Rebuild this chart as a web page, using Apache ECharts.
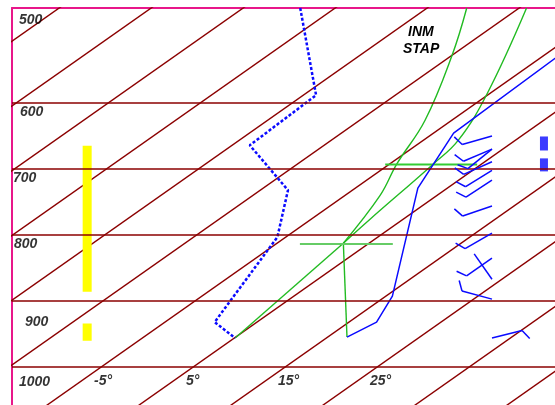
<!DOCTYPE html>
<html><head><meta charset="utf-8">
<script src="https://cdn.jsdelivr.net/npm/echarts/dist/echarts.min.js"></script>
<style>html,body{margin:0;padding:0;background:#fff}#c{width:555px;height:405px}</style>
</head><body><div id="c"></div>
<script>
// ---------- data ----------
const ISOBARS = [600, 700, 800, 900, 1000];                 // hPa
const ISOTHERMS = [-75, -65, -55, -45, -35, -25, -15, -5, 5, 15, 25, 35, 45, 55]; // °C
const PRESSURE_LEVELS = [500, 600, 700, 800, 900, 1000];
const PRESSURE_LABELS = ['500', '600', '700', '800', '900', '1000'];
const TEMP_TICKS = [-5, 5, 15, 25];
const TEMP_LABELS = ['-5°', '5°', '15°', '25°'];

// temperature profile (solid blue)
const TEMP_P = [954.5, 931.8, 892.4, 729.0, 645.8, 515.7];
const TEMP_T = [17.1, 18.0, 15.7, 1.8, -2.8, -3.4];
// dew point profile (dotted blue)
const DEW_P = [456.3, 588.4, 664.0, 732.1, 803.2, 931.8, 956.0];
const DEW_T = [-38.8, -23.6, -23.1, -12.0, -5.9, 0.4, 5.1];

// parcel construction (green)
const DRY_P = [954.5, 812.3];
const DRY_T = [17.1, 2.2];
const MIX_P = [956.0, 812.3];
const MIX_T = [5.1, 2.2];
const MOIST1_P = [812.3, 739.6, 692.7, 626.2, 527.8, 456.3];
const MOIST1_T = [2.2, -1.2, -4.2, -7.9, -15.0, -20.7];
const MOIST2_P = [812.3, 776.0, 692.7, 656.4, 585.3, 456.3];
const MOIST2_T = [2.2, 1.4, -0.25, -1.2, -5.3, -14.2];
const LCL_MARK_P = 813.5;  const LCL_MARK_T = [-2.4, 7.7];
const LVL_MARK_P = 693.2;  const LVL_MARK_T = [-5.4, 4.6];

// cloud layers (yellow) and upper markers (blue)
const CLOUD_LAYERS = [[665, 886], [934, 960]];
const MARKER_P = [661.4, 693.8];

// winds
const WIND_P   = [650, 670, 670, 689, 702, 717, 756, 797, 835, 867, 897, 956];
const WIND_DIR = [254, 247, 231, 246, 238, 237, 251, 240, 235, 325, 285, 76];
const WIND_SPD = [10, 10, 10, 10, 10, 10, 10, 10, 10, 0, 10, 10];

// ---------- diagram geometry ----------
const SKEW = 0.102;             // °C of horizontal shift per hPa
const X_MIN = -14.67, X_MAX = 44.35, P_TOP = 456.3, P_BOT = 1057.3;
const YELLOW_X = -6.5, MARKER_X = 43.15, BARB_X = 37.5;
function sx(T, p) { return T + SKEW * (1000 - p); }
function prof(Ts, Ps) { return Ts.map((t, i) => [sx(t, Ps[i]), Ps[i]]); }

const DARKRED = '#8b0000', BLUE = '#0a0aff', GREEN = '#22bb22';
const FONT = 'Liberation Sans, Arial, sans-serif';

const series = [];
ISOTHERMS.forEach(T => series.push({
  type: 'line', data: [[sx(T, P_TOP - 20), P_TOP - 20], [sx(T, P_BOT + 20), P_BOT + 20]],
  symbol: 'none', lineStyle: { color: DARKRED, width: 1.4 }, z: 1, silent: true
}));
series.push({
  type: 'line', data: [], symbol: 'none', z: 1, silent: true,
  markLine: { symbol: 'none', silent: true, label: { show: false },
    lineStyle: { color: DARKRED, width: 1.6, type: 'solid' },
    data: ISOBARS.map(p => ({ yAxis: p })) }
});
CLOUD_LAYERS.forEach(l => series.push({
  type: 'line', data: [[YELLOW_X, l[0]], [YELLOW_X, l[1]]], symbol: 'none',
  lineStyle: { color: '#ffff00', width: 9, cap: 'butt' }, z: 2, silent: true
}));
series.push({ type: 'scatter', data: [[MARKER_X, MARKER_P[0]]], symbol: 'rect', symbolSize: [8, 14], itemStyle: { color: BLUE }, z: 4, silent: true });
series.push({ type: 'scatter', data: [[MARKER_X, MARKER_P[1]]], symbol: 'rect', symbolSize: [8, 13], itemStyle: { color: BLUE }, z: 4, silent: true });

function gline(data, color, width, smooth) {
  series.push({ type: 'line', data, symbol: 'none', smooth: smooth || false,
    lineStyle: { color, width }, z: 3, silent: true });
}
gline(prof(DRY_T, DRY_P), GREEN, 1.4);
gline(prof(MIX_T, MIX_P), GREEN, 1.4);
gline(prof(MOIST1_T, MOIST1_P), GREEN, 1.4, 0.4);
gline(prof(MOIST2_T, MOIST2_P), GREEN, 1.4, 0.4);
gline(LCL_MARK_T.map(t => [sx(t, LCL_MARK_P), LCL_MARK_P]), '#66cc66', 2);
gline(LVL_MARK_T.map(t => [sx(t, LVL_MARK_P), LVL_MARK_P]), '#33cc33', 2);

series.push({ type: 'line', data: prof(TEMP_T, TEMP_P), symbol: 'none',
  lineStyle: { color: BLUE, width: 1.5 }, z: 4, silent: true });
series.push({ type: 'line', data: prof(DEW_T, DEW_P), symbol: 'none',
  lineStyle: { color: BLUE, width: 2.5, type: [3, 2] }, z: 4, silent: true });

series.push({
  type: 'custom', z: 5, silent: true,
  data: WIND_P.map((p, i) => [BARB_X, p, WIND_DIR[i], WIND_SPD[i]]),
  encode: { x: 0, y: 1 },
  renderItem: function (params, api) {
    const s = api.coord([api.value(0), api.value(1)]);
    const d = api.value(2) * Math.PI / 180, spd = api.value(3);
    const L = 31, BL = 11;
    const ux = Math.sin(d), uy = -Math.cos(d);
    const ox = s[0] + ux * L, oy = s[1] + uy * L;
    const st = { stroke: BLUE, lineWidth: 1.5 };
    const ch = [{ type: 'line', shape: { x1: s[0], y1: s[1], x2: ox, y2: oy }, style: st }];
    const a = Math.atan2(uy, ux) + 60 * Math.PI / 180;
    let pos = 0;
    for (let i = 0; i < Math.floor(spd / 10); i++) {
      const bx = ox - ux * pos, by = oy - uy * pos;
      ch.push({ type: 'line', shape: { x1: bx, y1: by, x2: bx + Math.cos(a) * BL, y2: by + Math.sin(a) * BL }, style: st });
      pos += 4;
    }
    if (spd % 10 >= 5) {
      const bx = ox - ux * pos, by = oy - uy * pos;
      ch.push({ type: 'line', shape: { x1: bx, y1: by, x2: bx + Math.cos(a) * BL / 2, y2: by + Math.sin(a) * BL / 2 }, style: st });
    }
    return { type: 'group', children: ch };
  }
});

// text labels
const P_LABEL_OFF = [[7, -17], [8, 9], [1, 9], [2, 9], [13, 21], [7, 15]];
const txt = { show: true, position: [0, 0], align: 'left', verticalAlign: 'middle',
  fontFamily: FONT, fontStyle: 'italic', fontWeight: 'bold', fontSize: 14, color: '#000' };
series.push({ type: 'scatter', symbolSize: 0, z: 6, silent: true,
  data: PRESSURE_LEVELS.map((p, i) => ({ value: [X_MIN, p],
    label: Object.assign({}, txt, { formatter: PRESSURE_LABELS[i], offset: P_LABEL_OFF[i] }) })) });
series.push({ type: 'scatter', symbolSize: 0, z: 6, silent: true,
  data: TEMP_TICKS.map((t, i) => ({ value: [sx(t, 1000), 1000],
    label: Object.assign({}, txt, { formatter: TEMP_LABELS[i], offset: [-7, 14] }) })) });

const chart = echarts.init(document.getElementById('c'), null, { renderer: 'canvas' });
chart.setOption({
  animation: false,
  backgroundColor: '#fff',
  grid: { left: 12, right: 0, top: 8, bottom: 0, containLabel: false },
  xAxis: { type: 'value', min: X_MIN, max: X_MAX, position: 'top',
    axisLine: { show: true, onZero: false, lineStyle: { color: '#e8178a', width: 2 } },
    axisTick: { show: false }, axisLabel: { show: false }, splitLine: { show: false } },
  yAxis: { type: 'value', min: P_TOP, max: P_BOT, inverse: true,
    axisLine: { show: true, onZero: false, lineStyle: { color: '#e8178a', width: 2 } },
    axisTick: { show: false }, axisLabel: { show: false }, splitLine: { show: false } },
  graphic: [
    { type: 'text', left: 408, top: 25, style: { text: 'INM', font: 'italic bold 14px ' + FONT, fill: '#000' } },
    { type: 'text', left: 403, top: 42, style: { text: 'STAP', font: 'italic bold 14px ' + FONT, fill: '#000' } }
  ],
  series
});
</script></body></html>
